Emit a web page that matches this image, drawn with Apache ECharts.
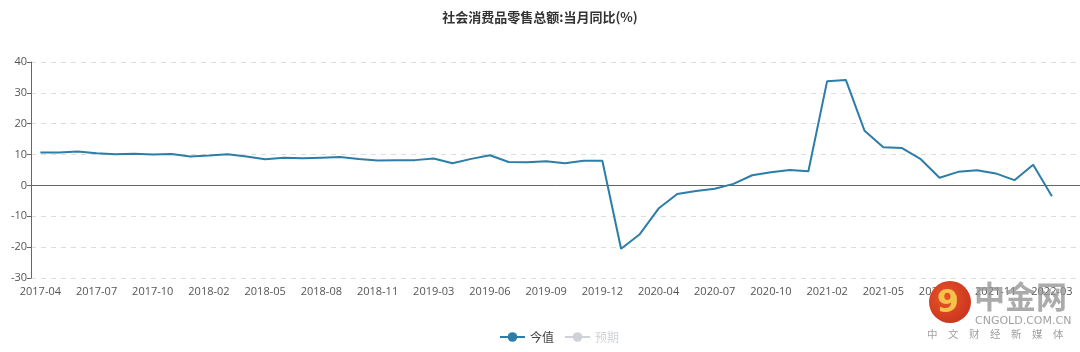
<!DOCTYPE html>
<html>
<head>
<meta charset="utf-8">
<title>社会消费品零售总额:当月同比(%)</title>
<script src="https://cdn.jsdelivr.net/npm/echarts@6/dist/echarts.min.js"></script>
<style>
  html, body { margin: 0; padding: 0; background: #fff; }
  #chart { width: 1080px; height: 352px; }
</style>
</head>
<body>
<div id="chart"></div>
<script>
// months (January is merged into February, so it is skipped)
var months = [
  '2017-04', '2017-05', '2017-06', '2017-07', '2017-08', '2017-09', '2017-10', '2017-11', '2017-12',
  '2018-02', '2018-03', '2018-04', '2018-05', '2018-06', '2018-07', '2018-08', '2018-09', '2018-10', '2018-11', '2018-12',
  '2019-02', '2019-03', '2019-04', '2019-05', '2019-06', '2019-07', '2019-08', '2019-09', '2019-10', '2019-11', '2019-12',
  '2020-02', '2020-03', '2020-04', '2020-05', '2020-06', '2020-07', '2020-08', '2020-09', '2020-10', '2020-11', '2020-12',
  '2021-02', '2021-03', '2021-04', '2021-05', '2021-06', '2021-07', '2021-08', '2021-09', '2021-10', '2021-11', '2021-12',
  '2022-02', '2022-03', '2022-04'
];

// 今值
var actual = [
  10.7, 10.7, 11.0, 10.4, 10.1, 10.3, 10.0, 10.2, 9.4,
  9.7, 10.1, 9.4, 8.5, 9.0, 8.8, 9.0, 9.2, 8.6, 8.1, 8.2,
  8.2, 8.7, 7.2, 8.6, 9.8, 7.6, 7.5, 7.8, 7.2, 8.0, 8.0,
  -20.5, -15.8, -7.5, -2.8, -1.8, -1.1, 0.5, 3.3, 4.3, 5.0, 4.6,
  33.8, 34.2, 17.7, 12.4, 12.1, 8.5, 2.5, 4.4, 4.9, 3.9, 1.7,
  6.7, -3.5, null
];

// 预期 (no values shown)
var forecast = [];

var yTicks = { min: -30, max: 40, step: 10 };

var chart = echarts.init(document.getElementById('chart'));

chart.setOption({
  animation: false,
  title: {
    text: '社会消费品零售总额:当月同比(%)',
    left: 'center',
    top: 6,
    textStyle: { fontSize: 13, fontWeight: 'bold', color: '#333', fontFamily: 'Noto Sans CJK SC' }
  },
  legend: {
    bottom: 4,
    left: 494,
    itemWidth: 25,
    itemHeight: 12,
    itemGap: 10,
    data: ['今值', '预期'],
    selected: { '今值': true, '预期': false },
    textStyle: { fontSize: 12, color: '#444', fontFamily: 'Noto Sans CJK SC' }
  },
  grid: { left: 31, right: 0, top: 62, bottom: 74 },
  xAxis: {
    type: 'category',
    data: months,
    boundaryGap: true,
    axisLine: { onZero: true, lineStyle: { color: '#666' } },
    axisTick: { interval: 2, lineStyle: { color: '#666' } },
    axisLabel: {
      interval: 2,
      color: '#555',
      fontSize: 11,
      fontFamily: 'Open Sans',
      margin: 8
    },
    splitLine: { show: false }
  },
  yAxis: {
    type: 'value',
    min: yTicks.min,
    max: yTicks.max,
    interval: yTicks.step,
    axisLine: { show: true, lineStyle: { color: '#666' } },
    axisTick: { show: true, length: 4, lineStyle: { color: '#666' } },
    axisLabel: { color: '#555', fontSize: 11, fontFamily: 'Open Sans', margin: 4 },
    splitLine: { show: true, lineStyle: { color: '#ddd', type: [5, 5] } }
  },
  series: [
    {
      name: '今值',
      type: 'line',
      data: actual,
      symbol: 'circle',
      symbolSize: 8,
      showSymbol: false,
      itemStyle: { color: '#2c7da8' },
      lineStyle: { width: 2, color: '#2c7da8' }
    },
    {
      name: '预期',
      type: 'line',
      data: forecast,
      symbol: 'circle',
      symbolSize: 8,
      showSymbol: false,
      itemStyle: { color: '#ccc' }
    }
  ],
  graphic: [
    {
      type: 'circle',
      z: 100,
      shape: { cx: 950, cy: 302, r: 21 },
      style: {
        fill: new echarts.graphic.RadialGradient(0.4, 0.4, 0.7, [
          { offset: 0, color: '#e8552a' },
          { offset: 1, color: '#c8321c' }
        ])
      }
    },
    {
      type: 'text',
      z: 101,
      style: { x: 948, y: 304, text: '9', fill: '#f5c24a', font: 'bold 32px "DejaVu Sans"', textAlign: 'center', textVerticalAlign: 'middle' }
    },
    {
      type: 'text',
      z: 100,
      style: { x: 974, y: 281, text: '中金网', fill: 'rgba(150,150,150,0.8)', font: 'bold 31px "Noto Sans CJK SC"' }
    },
    {
      type: 'text',
      z: 100,
      style: { x: 975, y: 316, text: 'CNGOLD.COM.CN', fill: 'rgba(150,150,150,0.9)', font: '11px "DejaVu Sans"' }
    },
    {
      type: 'text',
      z: 100,
      style: { x: 927, y: 329, text: '中　文　财　经　新　媒　体', fill: 'rgba(150,150,150,0.9)', font: '10.5px "Noto Sans CJK SC"' }
    }
  ]
});
</script>
</body>
</html>
